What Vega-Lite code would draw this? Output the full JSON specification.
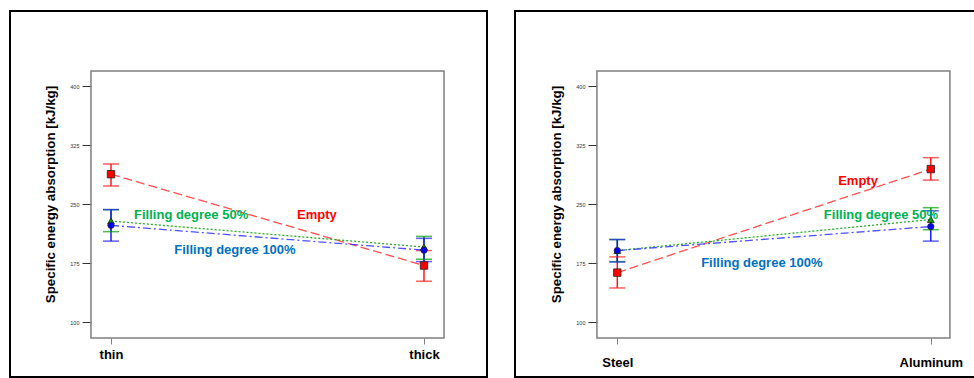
{
  "$schema": "https://vega.github.io/schema/vega-lite/v6.json",
  "padding": {"left": 9, "top": 10, "right": 0, "bottom": 0},
  "config": {
    "view": {"stroke": "#000", "strokeWidth": 2},
    "font": "Liberation Sans"
  },
  "datasets": {
    "thick": [
      {"level": "thin", "x": 0, "series": "Empty", "mean": 288, "lo": 273, "hi": 301},
      {"level": "thick", "x": 1, "series": "Empty", "mean": 172, "lo": 152, "hi": 191},
      {"level": "thin", "x": 0, "series": "Filling degree 50%", "mean": 228.5, "lo": 215, "hi": 243},
      {"level": "thick", "x": 1, "series": "Filling degree 50%", "mean": 195.5, "lo": 180, "hi": 209},
      {"level": "thin", "x": 0, "series": "Filling degree 100%", "mean": 223, "lo": 203, "hi": 243},
      {"level": "thick", "x": 1, "series": "Filling degree 100%", "mean": 191.5, "lo": 177, "hi": 206.5}
    ],
    "mat": [
      {"level": "Steel", "x": 0, "series": "Empty", "mean": 163, "lo": 143.5, "hi": 183},
      {"level": "Aluminum", "x": 1, "series": "Empty", "mean": 294.5, "lo": 280.5, "hi": 309},
      {"level": "Steel", "x": 0, "series": "Filling degree 50%", "mean": 191, "lo": 177, "hi": 205},
      {"level": "Aluminum", "x": 1, "series": "Filling degree 50%", "mean": 230.5, "lo": 217.5, "hi": 245.5},
      {"level": "Steel", "x": 0, "series": "Filling degree 100%", "mean": 191, "lo": 176.5, "hi": 205},
      {"level": "Aluminum", "x": 1, "series": "Filling degree 100%", "mean": 221.5, "lo": 203, "hi": 241.5}
    ],
    "labThick": [
      {"series": "Filling degree 50%", "x": 0.256, "mean": 236},
      {"series": "Empty", "x": 0.658, "mean": 236},
      {"series": "Filling degree 100%", "x": 0.396, "mean": 191.7}
    ],
    "labMat": [
      {"series": "Empty", "x": 0.768, "mean": 279.3},
      {"series": "Filling degree 50%", "x": 0.841, "mean": 236},
      {"series": "Filling degree 100%", "x": 0.461, "mean": 175.2}
    ]
  },
  "spacing": 26,
  "hconcat": [
    {
      "width": 477,
      "height": 366,
      "layer": [
        {
          "data": {"values": [{"k": 1}]},
          "mark": {"type": "rect", "fill": "#fff", "fillOpacity": 0, "stroke": "#7f7f7f", "strokeWidth": 1.5},
          "encoding": {
            "x": {"datum": -0.064, "type": "quantitative", "scale": {"domain": [-0.3227, 1.2013], "nice": false, "zero": false},
              "axis": {"values": [0, 1], "labelExpr": "datum.value == 0 ? 'thin' : 'thick'", "offset": -39, "domain": false, "grid": false, "tickSize": 6, "tickColor": "#808080", "labelFontSize": 13, "labelFontWeight": "bold", "labelColor": "#000", "labelPadding": 4, "labelFlush": false, "title": null}},
            "x2": {"datum": 1.064},
            "y": {"datum": 419, "type": "quantitative", "scale": {"domain": [30.4, 495.3], "nice": false, "zero": false},
              "axis": {"values": [100, 175, 250, 325, 400], "offset": -81, "domain": false, "grid": false, "tickSize": 9, "tickColor": "#333", "labelFontSize": 5.5, "labelColor": "#333", "labelPadding": 3, "title": "Specific energy absorption [kJ/kg]", "titleFontSize": 13.3, "titleFontWeight": "bold", "titleColor": "#000", "titlePadding": 12}},
            "y2": {"datum": 80}
          }
        },
        {
          "data": {"name": "thick"},
          "mark": {"type": "rule", "strokeWidth": 1.5},
          "encoding": {
            "x": {"field": "x", "type": "quantitative"},
            "y": {"field": "lo", "type": "quantitative"},
            "y2": {"field": "hi"},
            "color": {"field": "series", "type": "nominal", "scale": {"domain": ["Empty", "Filling degree 50%", "Filling degree 100%"], "range": ["#ff1a1a", "#00a000", "#1a1aff"]}, "legend": null}
          }
        },
        {
          "data": {"name": "thick"},
          "mark": {"type": "tick", "orient": "horizontal", "size": 16, "thickness": 1.5},
          "encoding": {
            "x": {"field": "x", "type": "quantitative"},
            "y": {"field": "lo", "type": "quantitative"},
            "color": {"field": "series", "type": "nominal", "scale": {"domain": ["Empty", "Filling degree 50%", "Filling degree 100%"], "range": ["#ff1a1a", "#00a000", "#1a1aff"]}, "legend": null}
          }
        },
        {
          "data": {"name": "thick"},
          "mark": {"type": "tick", "orient": "horizontal", "size": 16, "thickness": 1.5},
          "encoding": {
            "x": {"field": "x", "type": "quantitative"},
            "y": {"field": "hi", "type": "quantitative"},
            "color": {"field": "series", "type": "nominal", "scale": {"domain": ["Empty", "Filling degree 50%", "Filling degree 100%"], "range": ["#ff1a1a", "#00a000", "#1a1aff"]}, "legend": null}
          }
        },
        {
          "data": {"name": "thick"},
          "mark": {"type": "line", "strokeWidth": 1.3, "opacity": 0.85},
          "encoding": {
            "x": {"field": "x", "type": "quantitative"},
            "y": {"field": "mean", "type": "quantitative"},
            "color": {"field": "series", "type": "nominal", "scale": {"domain": ["Empty", "Filling degree 50%", "Filling degree 100%"], "range": ["#ff3030", "#00a000", "#3030ff"]}, "legend": null},
            "strokeDash": {"field": "series", "type": "nominal", "scale": {"domain": ["Empty", "Filling degree 50%", "Filling degree 100%"], "range": [[9, 4], [2, 2], [8, 3, 2, 3]]}, "legend": null}
          }
        },
        {
          "data": {"name": "thick"},
          "mark": {"type": "point", "filled": true, "stroke": "#222", "strokeWidth": 0.8, "opacity": 1},
          "encoding": {
            "x": {"field": "x", "type": "quantitative"},
            "y": {"field": "mean", "type": "quantitative"},
            "fill": {"field": "series", "type": "nominal", "scale": {"domain": ["Empty", "Filling degree 50%", "Filling degree 100%"], "range": ["#ff0000", "#00a000", "#0000ff"]}, "legend": null},
            "shape": {"field": "series", "type": "nominal", "scale": {"domain": ["Empty", "Filling degree 50%", "Filling degree 100%"], "range": ["square", "triangle-up", "circle"]}, "legend": null},
            "size": {"field": "series", "type": "ordinal", "scale": {"domain": ["Empty", "Filling degree 50%", "Filling degree 100%"], "range": [55, 40, 35]}, "legend": null}
          }
        },
        {
          "data": {"name": "labThick"},
          "mark": {"type": "text", "fontSize": 13, "fontWeight": "bold", "align": "center", "baseline": "middle"},
          "encoding": {
            "x": {"field": "x", "type": "quantitative"},
            "y": {"field": "mean", "type": "quantitative"},
            "text": {"field": "series"},
            "color": {"field": "series", "type": "nominal", "scale": {"domain": ["Empty", "Filling degree 50%", "Filling degree 100%"], "range": ["#ff0000", "#00b050", "#0070c0"]}, "legend": null}
          }
        }
      ],
      "resolve": {"scale": {"color": "independent"}}
    },
    {
      "width": 461,
      "height": 366,
      "layer": [
        {
          "data": {"values": [{"k": 1}]},
          "mark": {"type": "rect", "fill": "#fff", "fillOpacity": 0, "stroke": "#7f7f7f", "strokeWidth": 1.5},
          "encoding": {
            "x": {"datum": -0.065, "type": "quantitative", "scale": {"domain": [-0.3263, 1.1442], "nice": false, "zero": false},
              "axis": {"values": [0, 1], "labelExpr": "datum.value == 0 ? 'Steel' : 'Aluminum'", "offset": -39, "domain": false, "grid": false, "tickSize": 6, "tickColor": "#808080", "labelFontSize": 13, "labelFontWeight": "bold", "labelColor": "#000", "labelPadding": 12, "labelFlush": false, "title": null}},
            "x2": {"datum": 1.061},
            "y": {"datum": 419, "type": "quantitative", "scale": {"domain": [30.4, 495.3], "nice": false, "zero": false},
              "axis": {"values": [100, 175, 250, 325, 400], "offset": -82, "domain": false, "grid": false, "tickSize": 9, "tickColor": "#333", "labelFontSize": 5.5, "labelColor": "#333", "labelPadding": 3, "title": "Specific energy absorption [kJ/kg]", "titleFontSize": 13.3, "titleFontWeight": "bold", "titleColor": "#000", "titlePadding": 12}},
            "y2": {"datum": 80}
          }
        },
        {
          "data": {"name": "mat"},
          "mark": {"type": "rule", "strokeWidth": 1.5},
          "encoding": {
            "x": {"field": "x", "type": "quantitative"},
            "y": {"field": "lo", "type": "quantitative"},
            "y2": {"field": "hi"},
            "color": {"field": "series", "type": "nominal", "scale": {"domain": ["Empty", "Filling degree 50%", "Filling degree 100%"], "range": ["#ff1a1a", "#00a000", "#1a1aff"]}, "legend": null}
          }
        },
        {
          "data": {"name": "mat"},
          "mark": {"type": "tick", "orient": "horizontal", "size": 16, "thickness": 1.5},
          "encoding": {
            "x": {"field": "x", "type": "quantitative"},
            "y": {"field": "lo", "type": "quantitative"},
            "color": {"field": "series", "type": "nominal", "scale": {"domain": ["Empty", "Filling degree 50%", "Filling degree 100%"], "range": ["#ff1a1a", "#00a000", "#1a1aff"]}, "legend": null}
          }
        },
        {
          "data": {"name": "mat"},
          "mark": {"type": "tick", "orient": "horizontal", "size": 16, "thickness": 1.5},
          "encoding": {
            "x": {"field": "x", "type": "quantitative"},
            "y": {"field": "hi", "type": "quantitative"},
            "color": {"field": "series", "type": "nominal", "scale": {"domain": ["Empty", "Filling degree 50%", "Filling degree 100%"], "range": ["#ff1a1a", "#00a000", "#1a1aff"]}, "legend": null}
          }
        },
        {
          "data": {"name": "mat"},
          "mark": {"type": "line", "strokeWidth": 1.3, "opacity": 0.85},
          "encoding": {
            "x": {"field": "x", "type": "quantitative"},
            "y": {"field": "mean", "type": "quantitative"},
            "color": {"field": "series", "type": "nominal", "scale": {"domain": ["Empty", "Filling degree 50%", "Filling degree 100%"], "range": ["#ff3030", "#00a000", "#3030ff"]}, "legend": null},
            "strokeDash": {"field": "series", "type": "nominal", "scale": {"domain": ["Empty", "Filling degree 50%", "Filling degree 100%"], "range": [[9, 4], [2, 2], [8, 3, 2, 3]]}, "legend": null}
          }
        },
        {
          "data": {"name": "mat"},
          "mark": {"type": "point", "filled": true, "stroke": "#222", "strokeWidth": 0.8, "opacity": 1},
          "encoding": {
            "x": {"field": "x", "type": "quantitative"},
            "y": {"field": "mean", "type": "quantitative"},
            "fill": {"field": "series", "type": "nominal", "scale": {"domain": ["Empty", "Filling degree 50%", "Filling degree 100%"], "range": ["#ff0000", "#00a000", "#0000ff"]}, "legend": null},
            "shape": {"field": "series", "type": "nominal", "scale": {"domain": ["Empty", "Filling degree 50%", "Filling degree 100%"], "range": ["square", "triangle-up", "circle"]}, "legend": null},
            "size": {"field": "series", "type": "ordinal", "scale": {"domain": ["Empty", "Filling degree 50%", "Filling degree 100%"], "range": [55, 40, 35]}, "legend": null}
          }
        },
        {
          "data": {"name": "labMat"},
          "mark": {"type": "text", "fontSize": 13, "fontWeight": "bold", "align": "center", "baseline": "middle"},
          "encoding": {
            "x": {"field": "x", "type": "quantitative"},
            "y": {"field": "mean", "type": "quantitative"},
            "text": {"field": "series"},
            "color": {"field": "series", "type": "nominal", "scale": {"domain": ["Empty", "Filling degree 50%", "Filling degree 100%"], "range": ["#ff0000", "#00b050", "#0070c0"]}, "legend": null}
          }
        }
      ],
      "resolve": {"scale": {"color": "independent"}}
    }
  ]
}
